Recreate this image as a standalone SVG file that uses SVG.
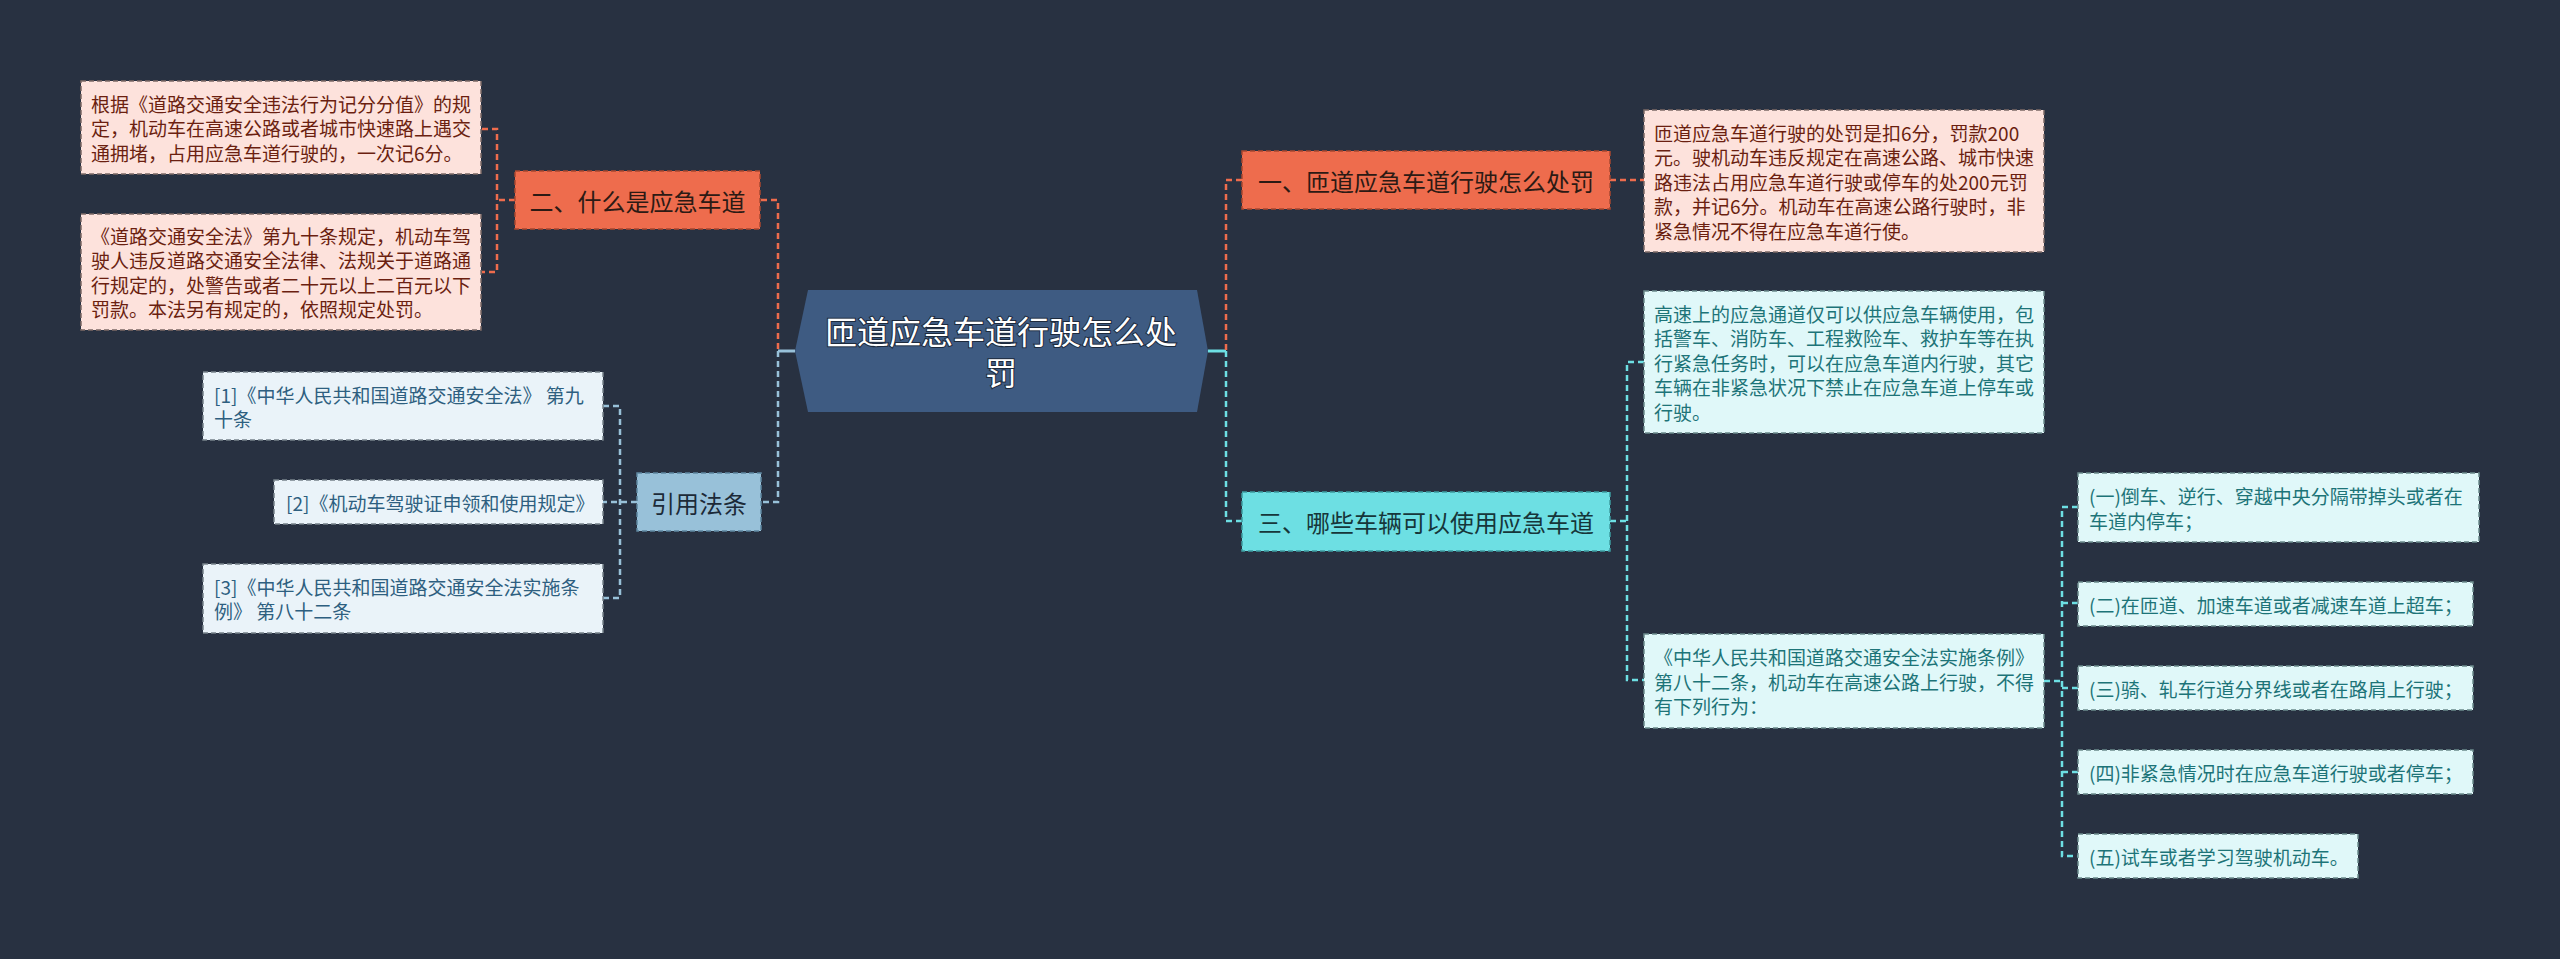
<svg xmlns="http://www.w3.org/2000/svg" width="2560" height="959" viewBox="0 0 2560 959">
<style>
text{font-family:"Microsoft YaHei","Noto Sans CJK SC","Noto Sans",sans-serif;dominant-baseline:central}
.t19{font-size:19px}
.t24{font-size:24px}
.or{fill:#ee6c4d;stroke:#a8472f;stroke-width:1.5;stroke-dasharray:5 3}
.orl{fill:#fde2dc;stroke:#7c6a66;stroke-width:1.5;stroke-dasharray:5 3}
.cy{fill:#6ddfe3;stroke:#3d9ca0;stroke-width:1.5;stroke-dasharray:5 3}
.cyl{fill:#e0f8f9;stroke:#6b8a8c;stroke-width:1.5;stroke-dasharray:5 3}
.lb{fill:#98c1d9;stroke:#5e87a0;stroke-width:1.5;stroke-dasharray:5 3}
.lbl{fill:#eaf3f9;stroke:#77838b;stroke-width:1.5;stroke-dasharray:5 3}
.tor{fill:#2c1a14}
.torl{fill:#6b1f10}
.tcy{fill:#16363a}
.tcyl{fill:#1d7478}
.tlb{fill:#1c2a38}
.tlbl{fill:#2e5f80}
.c{fill:none;stroke-width:2.5;stroke-dasharray:6 4}
.co{stroke:#ee6c4d}
.cc{stroke:#6ddfe3}
.cb{stroke:#98c1d9}
.s{fill:none;stroke-width:3}
</style>
<rect width="2560" height="959" fill="#283141"/>
<g id="connectors">
  <path class="s" stroke="#98c1d9" d="M795,351 H778"/>
  <path class="c co" d="M761,200 H778 V351"/>
  <path class="c cb" d="M778,351 V502 H761"/>
  <path class="c co" d="M515,200 H497"/>
  <path class="c co" d="M482,129 H497 V272 H482"/>
  <path class="c cb" d="M637,502 H603"/>
  <path class="c cb" d="M603,406 H620 V598 H603"/>
  <path class="s" stroke="#6ddfe3" d="M1208,351 H1226"/>
  <path class="c co" d="M1242,180 H1226 V351"/>
  <path class="c cc" d="M1226,351 V521 H1242"/>
  <path class="c co" d="M1610,180 H1644"/>
  <path class="c cc" d="M1610,521 H1627"/>
  <path class="c cc" d="M1644,362 H1627 V680 H1644"/>
  <path class="c cc" d="M2044,681 H2062"/>
  <path class="c cc" d="M2078,507 H2062 V856 H2078"/>
  <path class="c cc" d="M2062,603 H2078 M2062,688 H2078 M2062,772 H2078"/>
</g>
<g id="root">
  <polygon points="795,351 808,290 1197,290 1208,351 1197,412 808,412" fill="#3e5b82"/>
  <text x="1001" y="330" text-anchor="middle" font-size="32" fill="#ffffff" stroke="#1d2a3d" stroke-width="2" paint-order="stroke">匝道应急车道行驶怎么处</text>
  <text x="1001" y="371" text-anchor="middle" font-size="32" fill="#ffffff" stroke="#1d2a3d" stroke-width="2" paint-order="stroke">罚</text>
</g>
<g id="node-2">
  <rect class="or" x="515" y="171" width="245" height="58"/>
  <text class="t24 tor" x="637.5" y="200" text-anchor="middle">二、什么是应急车道</text>
</g>
<g id="node-2-a">
  <rect class="orl" x="81" y="81" width="400" height="93"/>
  <text class="t19 torl" x="91" y="103">根据《道路交通安全违法行为记分分值》的规</text>
  <text class="t19 torl" x="91" y="127.5">定，机动车在高速公路或者城市快速路上遇交</text>
  <text class="t19 torl" x="91" y="152">通拥堵，占用应急车道行驶的，一次记6分。</text>
</g>
<g id="node-2-b">
  <rect class="orl" x="81" y="214" width="400" height="116"/>
  <text class="t19 torl" x="91" y="235">《道路交通安全法》第九十条规定，机动车驾</text>
  <text class="t19 torl" x="91" y="259.5">驶人违反道路交通安全法律、法规关于道路通</text>
  <text class="t19 torl" x="91" y="284">行规定的，处警告或者二十元以上二百元以下</text>
  <text class="t19 torl" x="91" y="308.5">罚款。本法另有规定的，依照规定处罚。</text>
</g>
<g id="node-ref">
  <rect class="lb" x="637" y="473" width="124" height="58"/>
  <text class="t24 tlb" x="699" y="502" text-anchor="middle">引用法条</text>
</g>
<g id="ref-1">
  <rect class="lbl" x="203" y="372" width="400" height="68"/>
  <text class="t19 tlbl" x="214" y="394">[1]《中华人民共和国道路交通安全法》 第九</text>
  <text class="t19 tlbl" x="214" y="418">十条</text>
</g>
<g id="ref-2">
  <rect class="lbl" x="274" y="480" width="329" height="44"/>
  <text class="t19 tlbl" x="286" y="502">[2]《机动车驾驶证申领和使用规定》</text>
</g>
<g id="ref-3">
  <rect class="lbl" x="203" y="564" width="400" height="69"/>
  <text class="t19 tlbl" x="214" y="586">[3]《中华人民共和国道路交通安全法实施条</text>
  <text class="t19 tlbl" x="214" y="610">例》 第八十二条</text>
</g>
<g id="node-1">
  <rect class="or" x="1242" y="151" width="368" height="58"/>
  <text class="t24 tor" x="1426" y="180" text-anchor="middle">一、匝道应急车道行驶怎么处罚</text>
</g>
<g id="node-1-a">
  <rect class="orl" x="1644" y="110" width="400" height="142"/>
  <text class="t19 torl" x="1654" y="132">匝道应急车道行驶的处罚是扣6分，罚款200</text>
  <text class="t19 torl" x="1654" y="156.5">元。驶机动车违反规定在高速公路、城市快速</text>
  <text class="t19 torl" x="1654" y="181">路违法占用应急车道行驶或停车的处200元罚</text>
  <text class="t19 torl" x="1654" y="205.5">款，并记6分。机动车在高速公路行驶时，非</text>
  <text class="t19 torl" x="1654" y="230">紧急情况不得在应急车道行使。</text>
</g>
<g id="node-3">
  <rect class="cy" x="1242" y="492" width="368" height="59"/>
  <text class="t24 tcy" x="1426" y="521" text-anchor="middle">三、哪些车辆可以使用应急车道</text>
</g>
<g id="node-3-a">
  <rect class="cyl" x="1644" y="291" width="400" height="142"/>
  <text class="t19 tcyl" x="1654" y="313">高速上的应急通道仅可以供应急车辆使用，包</text>
  <text class="t19 tcyl" x="1654" y="337.5">括警车、消防车、工程救险车、救护车等在执</text>
  <text class="t19 tcyl" x="1654" y="362">行紧急任务时，可以在应急车道内行驶，其它</text>
  <text class="t19 tcyl" x="1654" y="386.5">车辆在非紧急状况下禁止在应急车道上停车或</text>
  <text class="t19 tcyl" x="1654" y="411">行驶。</text>
</g>
<g id="node-3-b">
  <rect class="cyl" x="1644" y="634" width="400" height="94"/>
  <text class="t19 tcyl" x="1654" y="656.5">《中华人民共和国道路交通安全法实施条例》</text>
  <text class="t19 tcyl" x="1654" y="681">第八十二条，机动车在高速公路上行驶，不得</text>
  <text class="t19 tcyl" x="1654" y="705.5">有下列行为：</text>
</g>
<g id="item-1">
  <rect class="cyl" x="2078" y="473" width="401" height="69"/>
  <text class="t19 tcyl" x="2089" y="495">(一)倒车、逆行、穿越中央分隔带掉头或者在</text>
  <text class="t19 tcyl" x="2089" y="520">车道内停车；</text>
</g>
<g id="item-2">
  <rect class="cyl" x="2078" y="582" width="395" height="44"/>
  <text class="t19 tcyl" x="2089" y="604">(二)在匝道、加速车道或者减速车道上超车；</text>
</g>
<g id="item-3">
  <rect class="cyl" x="2078" y="666" width="395" height="44"/>
  <text class="t19 tcyl" x="2089" y="688">(三)骑、轧车行道分界线或者在路肩上行驶；</text>
</g>
<g id="item-4">
  <rect class="cyl" x="2078" y="750" width="395" height="44"/>
  <text class="t19 tcyl" x="2089" y="772">(四)非紧急情况时在应急车道行驶或者停车；</text>
</g>
<g id="item-5">
  <rect class="cyl" x="2078" y="834" width="280" height="44"/>
  <text class="t19 tcyl" x="2089" y="856">(五)试车或者学习驾驶机动车。</text>
</g>
</svg>
